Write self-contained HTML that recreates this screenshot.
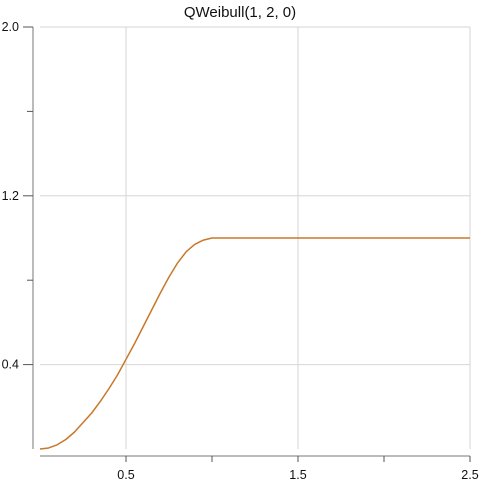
<!DOCTYPE html>
<html><head><meta charset="utf-8"><style>
html,body{margin:0;padding:0;background:#fff;}
svg{display:block;font-family:"Liberation Sans",sans-serif;}
</style></head><body>
<svg id="chart" width="480" height="480" viewBox="0 0 480 480">
<text x="240" y="17" text-anchor="middle" font-size="15" fill="#111">QWeibull(1, 2, 0)</text>
<g id="grid"></g>
<g id="axes"></g>
<g id="series"></g>
</svg>
<script>
const xs = [0, 0.05, 0.1, 0.15, 0.2, 0.25, 0.3, 0.35, 0.4, 0.45, 0.5, 0.55, 0.6, 0.65, 0.7, 0.75, 0.8, 0.85, 0.9, 0.95, 1.0, 1.5, 2.0, 2.5];
const ys = [0, 0.005, 0.02, 0.045, 0.08, 0.125, 0.17, 0.225, 0.285, 0.35, 0.425, 0.5, 0.58, 0.66, 0.74, 0.815, 0.882, 0.935, 0.97, 0.99, 1.0, 1.0, 1.0, 1.0];
const xTicks = [0.5, 1.0, 1.5, 2.0, 2.5];
const xTickLabels = ["0.5", "", "1.5", "", "2.5"];
const xGrid = [0.5, 1.5, 2.5];
const yTicks = [0.4, 0.8, 1.2, 1.6, 2.0];
const yTickLabels = ["0.4", "", "1.2", "", "2.0"];
const yGrid = [0.4, 1.2, 2.0];

const X0 = 40, XS = 172, Y0 = 449, YS = 211;
function sx(v){ return X0 + v * XS; }
function sy(v){ return Y0 - v * YS; }
const NS = "http://www.w3.org/2000/svg";
function mk(tag, attrs, parent){
  const e = document.createElementNS(NS, tag);
  for (const k in attrs) e.setAttribute(k, attrs[k]);
  parent.appendChild(e);
  return e;
}
const grid = document.getElementById('grid');
const axes = document.getElementById('axes');
const series = document.getElementById('series');

xGrid.forEach(v => {
  const l = mk('line', {x1: sx(v), x2: sx(v), y1: 27, y2: 449, stroke: '#d6d6d6', 'stroke-width': 1}, grid);
  
  
});
yGrid.forEach(v => {
  const l = mk('line', {x1: 40, x2: 470, y1: sy(v), y2: sy(v), stroke: '#d6d6d6', 'stroke-width': 1}, grid);
  
  
});

const ya = mk('line', {x1: 33, x2: 33, y1: 27, y2: 449, stroke: '#777', 'stroke-width': 1}, axes);


const xa = mk('line', {x1: 40, x2: 470, y1: 456, y2: 456, stroke: '#777', 'stroke-width': 1}, axes);



yTicks.forEach((v, i) => {
  const major = yTickLabels[i] !== "";
  const t = mk('line', {x1: major ? 23 : 27, x2: 33, y1: sy(v), y2: sy(v), stroke: '#555', 'stroke-width': 1}, axes);
  
  
  if (major) {
    const tx = mk('text', {x: 19, y: sy(v) + 4, 'text-anchor': 'end', 'font-size': 12.5, fill: '#111'}, axes);
    tx.textContent = yTickLabels[i];
    
    
  }
});
xTicks.forEach((v, i) => {
  const t = mk('line', {x1: sx(v), x2: sx(v), y1: 456, y2: 462, stroke: '#555', 'stroke-width': 1}, axes);
  
  
  if (xTickLabels[i] !== "") {
    const tx = mk('text', {x: sx(v), y: 479, 'text-anchor': 'middle', 'font-size': 12.5, fill: '#111'}, axes);
    tx.textContent = xTickLabels[i];
    
    
  }
});

const pts = xs.map((x, i) => sx(x) + ',' + sy(ys[i])).join(' ');
const line = mk('polyline', {points: pts, fill: 'none', stroke: '#c8782a', 'stroke-width': 1.5, 'stroke-linejoin': 'round'}, series);


</script>
</body></html>
